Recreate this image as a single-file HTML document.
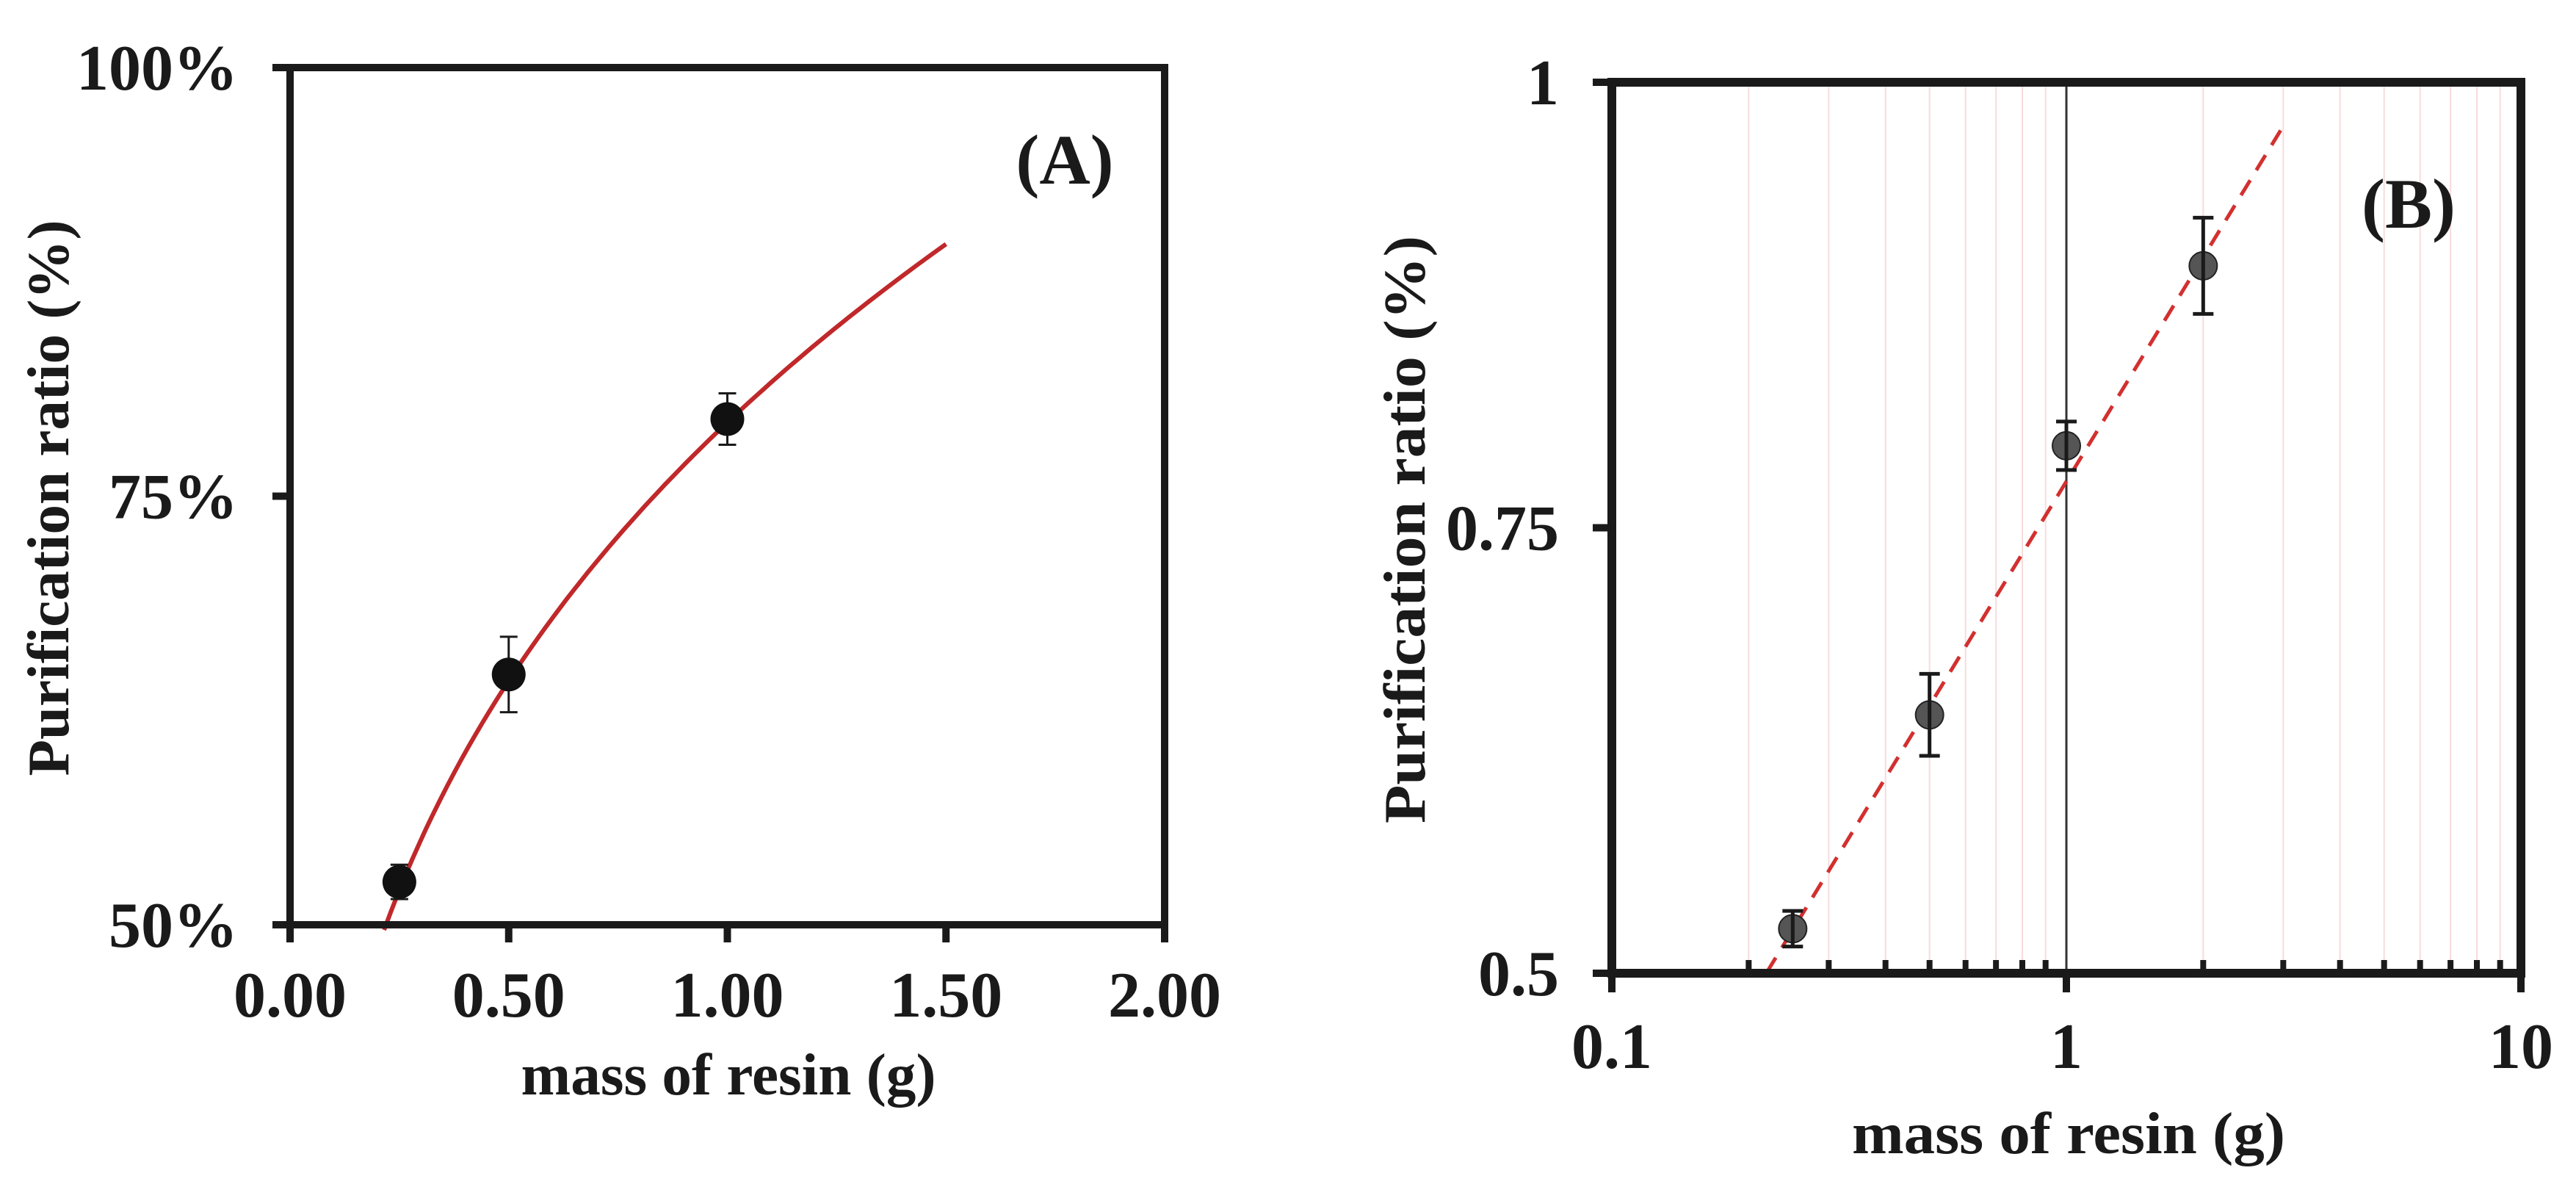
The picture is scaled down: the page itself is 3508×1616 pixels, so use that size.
<!DOCTYPE html>
<html><head><meta charset="utf-8"><style>
html,body{margin:0;padding:0;background:#fff}
svg{display:block}
text{font-family:"Liberation Serif",serif;font-weight:bold;fill:#1a1a1a}
</style></head><body>
<svg id="chart" width="3508" height="1616" viewBox="0 0 3508 1616" xmlns="http://www.w3.org/2000/svg">
<g id="panelA"></g>
<g id="panelB"></g>
</svg>
<script>
// Panel A data
const aX = [0.25, 0.5, 1.0];
const aY = [52.5, 64.6, 79.5];
const aErr = [1.0, 2.2, 1.5];
const aXTicks = [0, 0.5, 1.0, 1.5, 2.0];
const aXTickLabels = ["0.00", "0.50", "1.00", "1.50", "2.00"];
const aYTicks = [50, 75, 100];
const aYTickLabels = ["50%", "75%", "100%"];
const aFitCoef = [79.3, 0.304]; // y = a*x^b
const aFitRange = [0.215, 1.5];
// Panel B data
const bX = [0.25, 0.5, 1, 2];
const bY = [0.525, 0.645, 0.796, 0.897];
const bErr = [0.010, 0.023, 0.0136, 0.027];
const bXTicks = [0.1, 1, 10];
const bXTickLabels = ["0.1", "1", "10"];
const bYTicks = [0.5, 0.75, 1];
const bYTickLabels = ["0.5", "0.75", "1"];
const bMinor = [0.2,0.3,0.4,0.5,0.6,0.7,0.8,0.9,2,3,4,5,6,7,8,9];
const bFitCoef = [0.776, 0.418]; // y = a + b*log10(x)
const bFitRange = [0.219, 2.96];

const NS = "http://www.w3.org/2000/svg";
function mk(parent, tag, attrs, txt){
  const e = document.createElementNS(NS, tag);
  for (const k in attrs) e.setAttribute(k, attrs[k]);
  if (txt !== undefined) e.textContent = txt;
  parent.appendChild(e);
  return e;
}
// ===== Panel A =====
const gA = document.getElementById('panelA');
const AL=395, AR=1586, AT=92, AB=1259;
const axA = v => AL + (v-0)/(2-0)*(AR-AL);
const ayA = v => AB - (v-50)/(100-50)*(AB-AT);

aXTicks.forEach((t,i)=>{
  let l = mk(gA,'line',{x1:axA(t),x2:axA(t),y1:AB,y2:AB+24,stroke:'#1a1a1a','stroke-width':10});
   
  let tx = mk(gA,'text',{x:axA(t),y:1384,'font-size':88,'text-anchor':'middle'},aXTickLabels[i]);
   
});
aYTicks.forEach((t,i)=>{
  let l = mk(gA,'line',{x1:AL-24,x2:AL,y1:ayA(t),y2:ayA(t),stroke:'#1a1a1a','stroke-width':10});
   
  let tx = mk(gA,'text',{x:324,y:ayA(t)+30,'font-size':88,'text-anchor':'end'},aYTickLabels[i]);
   
});
let dA = '';
for (let k=0;k<=80;k++){
  const x = aFitRange[0] + (aFitRange[1]-aFitRange[0])*k/80;
  const y = aFitCoef[0]*Math.pow(x,aFitCoef[1]);
  dA += (k?'L':'M') + axA(x).toFixed(1) + ' ' + ayA(y).toFixed(1);
}
let cA = mk(gA,'path',{d:dA,fill:'none',stroke:'#c0282a','stroke-width':6});
 
aX.forEach((x,i)=>{
  const cx=axA(x), y1=ayA(aY[i]+aErr[i]), y2=ayA(aY[i]-aErr[i]);
  let e = mk(gA,'path',{d:`M${cx} ${y1}V${y2}M${cx-12} ${y1}H${cx+12}M${cx-12} ${y2}H${cx+12}`,stroke:'#1a1a1a','stroke-width':3,fill:'none'});
   
  let p = mk(gA,'circle',{cx:cx,cy:ayA(aY[i]),r:23,fill:'#111'});
   
});
let frA = mk(gA,'rect',{x:AL,y:AT,width:AR-AL,height:AB-AT,fill:'none',stroke:'#1a1a1a','stroke-width':10});
 
let ytA = mk(gA,'text',{x:0,y:0,'font-size':80,'text-anchor':'middle',transform:'translate(93,678) rotate(-90)',textLength:757,lengthAdjust:'spacingAndGlyphs'},'Purification ratio (%)');
 
let xtA = mk(gA,'text',{x:992,y:1490,'font-size':80,'text-anchor':'middle',textLength:565,lengthAdjust:'spacingAndGlyphs'},'mass of resin (g)');
 
let lbA = mk(gA,'text',{x:1450,y:250,'font-size':96,'text-anchor':'middle'},'(A)');
 

// ===== Panel B =====
const gB = document.getElementById('panelB');
const BL=2195, BR=3433, BT=112, BB=1325;
const axB = v => BL + (Math.log10(v)+1)/2*(BR-BL);
const ayB = v => BB - (v-0.5)/0.5*(BB-BT);

bMinor.forEach(m=>{
  let g = mk(gB,'line',{x1:axB(m),x2:axB(m),y1:BT,y2:BB,stroke:'#f6dcdc','stroke-width':2});
   
  let t = mk(gB,'line',{x1:axB(m),x2:axB(m),y1:BB-18,y2:BB,stroke:'#1a1a1a','stroke-width':8});
   
});
let vl = mk(gB,'line',{x1:axB(1),x2:axB(1),y1:BT,y2:BB,stroke:'#333','stroke-width':3});
 
bXTicks.forEach((t,i)=>{
  let l = mk(gB,'line',{x1:axB(t),x2:axB(t),y1:BB,y2:BB+26,stroke:'#1a1a1a','stroke-width':10});
   
  let tx = mk(gB,'text',{x:axB(t),y:1454,'font-size':88,'text-anchor':'middle'},bXTickLabels[i]);
   
});
bYTicks.forEach((t,i)=>{
  let l = mk(gB,'line',{x1:BL-26,x2:BL,y1:ayB(t),y2:ayB(t),stroke:'#1a1a1a','stroke-width':10});
   
  let tx = mk(gB,'text',{x:2123,y:ayB(t)+30,'font-size':88,'text-anchor':'end'},bYTickLabels[i]);
   
});
const fy0 = bFitCoef[0]+bFitCoef[1]*Math.log10(bFitRange[0]);
const fy1 = bFitCoef[0]+bFitCoef[1]*Math.log10(bFitRange[1]);
let fB = mk(gB,'line',{x1:axB(bFitRange[0]),y1:ayB(fy0),x2:axB(bFitRange[1]),y2:ayB(fy1),stroke:'#d2302f','stroke-width':5,'stroke-dasharray':'24 16'});
 
bX.forEach((x,i)=>{
  const cx=axB(x), cy=ayB(bY[i]);
  let p = mk(gB,'circle',{cx:cx,cy:cy,r:19,fill:'#555',stroke:'#222','stroke-width':2});
   
  const y1=ayB(bY[i]+bErr[i]), y2=ayB(bY[i]-bErr[i]);
  let e = mk(gB,'path',{d:`M${cx} ${y1}V${y2}M${cx-14} ${y1}H${cx+14}M${cx-14} ${y2}H${cx+14}`,stroke:'#1a1a1a','stroke-width':5,fill:'none'});
   
});
let frB = mk(gB,'rect',{x:BL,y:BT,width:BR-BL,height:BB-BT,fill:'none',stroke:'#1a1a1a','stroke-width':12});
 
let ytB = mk(gB,'text',{x:0,y:0,'font-size':80,'text-anchor':'middle',transform:'translate(1940,721) rotate(-90)',textLength:800,lengthAdjust:'spacingAndGlyphs'},'Purification ratio (%)');
 
let xtB = mk(gB,'text',{x:2817,y:1570,'font-size':80,'text-anchor':'middle',textLength:590,lengthAdjust:'spacingAndGlyphs'},'mass of resin (g)');
 
let lbB = mk(gB,'text',{x:3280,y:310,'font-size':96,'text-anchor':'middle'},'(B)');
 
</script>
</body></html>
